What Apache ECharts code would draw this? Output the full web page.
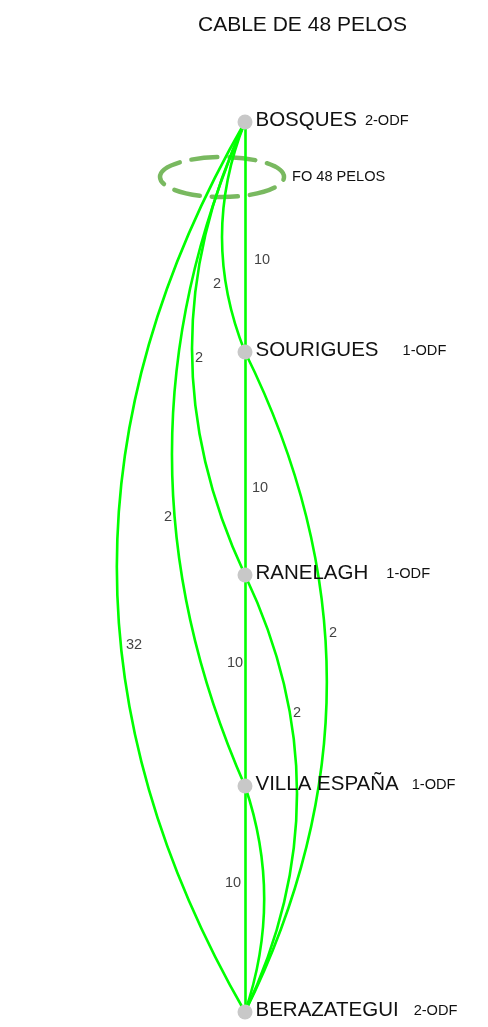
<!DOCTYPE html>
<html><head><meta charset="utf-8">
<script src="https://cdn.jsdelivr.net/npm/echarts@6/dist/echarts.min.js"></script>
<style>html,body{margin:0;padding:0;background:#fff}#c{width:488px;height:1027px}</style>
</head><body><div id="c"></div>
<script>
// ---- data ----
const titleText = 'CABLE DE 48 PELOS';
const stations = ['BOSQUES', 'SOURIGUES', 'RANELAGH', 'VILLA ESPAÑA', 'BERAZATEGUI'];
const odfLabels = ['2-ODF', '1-ODF', '1-ODF', '1-ODF', '2-ODF'];
const stationPos = [0, 230, 453, 664, 890];
const linkSource = [0, 0, 0, 0, 0, 1, 1, 2, 2, 3, 3];
const linkTarget = [1, 1, 2, 3, 4, 2, 4, 3, 4, 4, 4];
const linkFibers = [10, 2, 2, 2, 32, 10, 2, 10, 2, 10, null];
const cableLabel = 'FO 48 PELOS';

// ---- styles / layout ----
const linkCurveness = [0, -0.2, -0.234, -0.22, -0.288, 0, 0.248, 0, 0.238, 0, 0.17];
const fiberLabelAt = [[17,138],[-28,162],[-46,236],[-77,395],[-111,523],[15,366],[88,511],[-10,541],[52,591],[-12,761],null];
const odfGap = [8, 24, 18, 13, 15];
const FONT = '"Liberation Sans", Arial, sans-serif';

const chart = echarts.init(document.getElementById('c'));
const labelData = [];
linkFibers.forEach((f, i) => {
  if (f !== null && fiberLabelAt[i]) labelData.push({ value: [fiberLabelAt[i][0], fiberLabelAt[i][1], f] });
});
const rich = { n: { fontSize: 20.5, color: '#111', fontFamily: FONT, verticalAlign: 'middle' } };
odfGap.forEach((g, i) => {
  rich['o' + i] = { fontSize: 14.6, color: '#111', fontFamily: FONT, padding: [2, 0, 0, g], verticalAlign: 'middle' };
});

chart.setOption({
  animation: false,
  backgroundColor: '#fff',
  textStyle: { fontFamily: FONT },
  title: {
    text: titleText, left: 193, top: 10,
    textStyle: { fontSize: 21, fontWeight: 'normal', color: '#111', fontFamily: FONT }
  },
  grid: { left: 0, right: 0, top: 122, bottom: 15 },
  xAxis: { type: 'value', min: -245, max: 243, show: false },
  yAxis: { type: 'value', min: 0, max: 890, inverse: true, show: false },
  graphic: [
    { type: 'ellipse', shape: { cx: 222, cy: 177, rx: 62, ry: 20 },
      style: { fill: null, stroke: '#79b960', lineWidth: 4.5, lineDash: [26, 12], lineCap: 'round' }, z: 0 },
    { type: 'text', x: 292, y: 177,
      style: { text: cableLabel, fill: '#111', verticalAlign: 'middle', font: '14.6px ' + FONT }, z: 0 }
  ],
  series: [
    {
      type: 'graph', coordinateSystem: 'cartesian2d',
      symbol: 'circle', symbolSize: 15,
      itemStyle: { color: '#c8c8c8' },
      data: stations.map((s, i) => ({ name: s, value: [0, stationPos[i]] })),
      links: linkSource.map((s, i) => ({
        source: s, target: linkTarget[i], value: linkFibers[i],
        lineStyle: { curveness: linkCurveness[i] }
      })),
      lineStyle: { color: '#00ff00', width: 2.6, opacity: 1 },
      emphasis: { disabled: true },
      label: {
        show: true, position: 'right', distance: 3, offset: [0, -2],
        formatter: p => '{n|' + p.name + '}{o' + p.dataIndex + '|' + odfLabels[p.dataIndex] + '}',
        rich: rich
      },
      z: 3
    },
    {
      type: 'scatter', symbol: 'circle', symbolSize: 1,
      itemStyle: { color: 'rgba(0,0,0,0)' },
      data: labelData,
      label: { show: true, position: 'inside', formatter: p => String(p.value[2]), fontSize: 14.5, color: '#111', fontFamily: FONT },
      z: 4, silent: true
    }
  ]
});
</script></body></html>
